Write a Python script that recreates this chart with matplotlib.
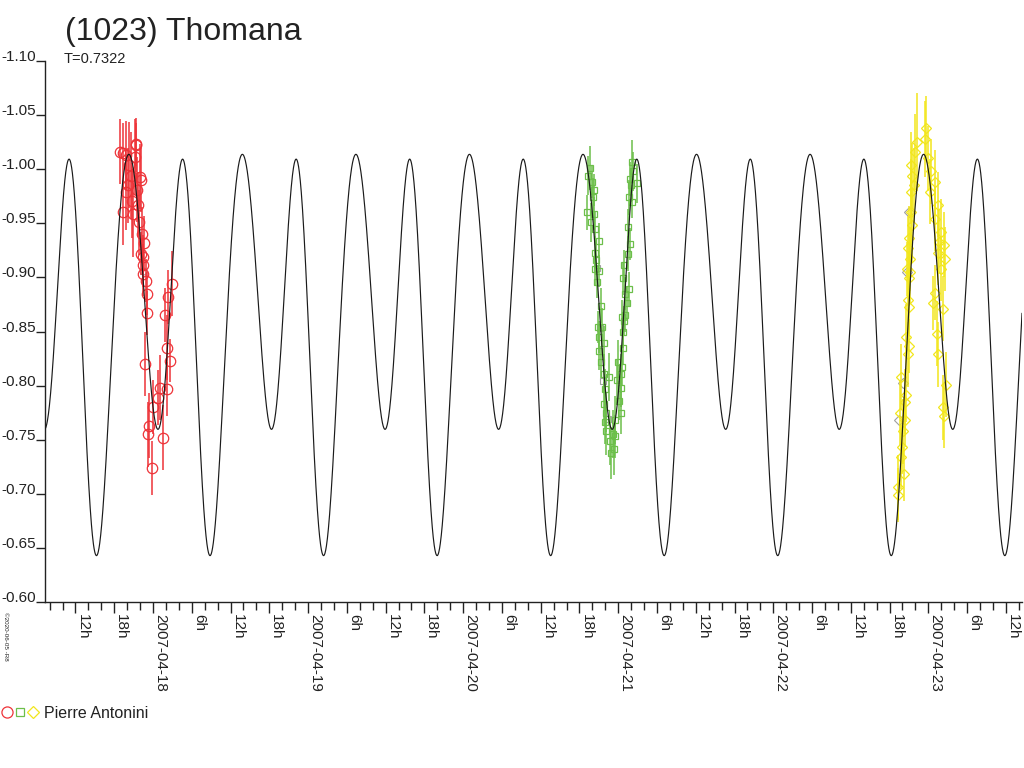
import numpy as np
import matplotlib
matplotlib.use("Agg")
import matplotlib.pyplot as plt
from matplotlib.ticker import FixedLocator, FuncFormatter
from matplotlib.legend_handler import HandlerTuple
from matplotlib.lines import Line2D

plt.rcParams['font.family'] = ['Liberation Sans', 'DejaVu Sans']

title = "(1023) Thomana"
period_label = "T=0.7322"
observer = "Pierre Antonini"

# time in days from 2007-04-18 00:00 UT, relative magnitude
red_t = [-0.211, -0.192, -0.174, -0.110, -0.116, -0.112, -0.155, -0.142, -0.161,
         -0.084, -0.079, -0.174, -0.103, -0.135, -0.097, -0.090, -0.192, -0.127,
         -0.073, -0.058, -0.079, -0.063, -0.066, -0.063, -0.045, -0.037, 0.125,
         0.099, -0.037, 0.077, 0.092, 0.110, -0.052, 0.092, 0.045, 0.034,
         0.002, -0.024, -0.030, 0.063, -0.008]
red_mag = [-1.016, -1.015, -1.013, -1.022, -1.011, -1.023, -1.004, -0.994, -0.985,
           -0.993, -0.990, -0.979, -0.981, -0.971, -0.967, -0.951, -0.960, -0.959,
           -0.940, -0.932, -0.922, -0.919, -0.911, -0.903, -0.897, -0.885, -0.894,
           -0.882, -0.867, -0.865, -0.835, -0.823, -0.820, -0.797, -0.798, -0.789,
           -0.780, -0.763, -0.755, -0.752, -0.724]
red_err = [0.030, 0.028, 0.032, 0.025, 0.035, 0.020, 0.040, 0.040, 0.035,
           0.030, 0.030, 0.035, 0.030, 0.035, 0.030, 0.030, 0.030, 0.040,
           0.025, 0.025, 0.020, 0.020, 0.020, 0.020, 0.020, 0.020, 0.030,
           0.025, 0.020, 0.025, 0.030, 0.020, 0.030, 0.025, 0.030, 0.025,
           0.025, 0.030, 0.030, 0.030, 0.025]

green_t = [2.805, 2.816, 2.831, 2.844, 2.838, 2.801, 2.844, 2.827, 2.849, 2.874,
           2.849, 2.859, 2.849, 2.874, 2.865, 2.891, 2.870, 2.896, 2.874, 2.909,
           2.874, 2.891, 2.909, 2.939, 2.913, 2.909, 2.923, 2.917, 2.923, 2.945,
           2.973, 2.956, 2.967, 2.978, 2.982, 3.016, 3.003, 3.020, 2.994, 3.016,
           3.025, 2.999, 3.031, 3.031, 3.038, 3.025, 3.042, 3.059, 3.042, 3.068,
           3.031, 3.038, 3.063, 3.074, 3.063, 3.089, 3.068, 3.123, 3.085, 3.074,
           3.096, 3.089]
green_mag = [-0.994, -1.001, -0.988, -0.981, -0.974, -0.960, -0.959, -0.951, -0.945, -0.934,
             -0.923, -0.916, -0.908, -0.906, -0.896, -0.874, -0.854, -0.854, -0.845, -0.839,
             -0.832, -0.822, -0.811, -0.808, -0.797, -0.783, -0.775, -0.766, -0.758, -0.749,
             -0.741, -0.738, -0.755, -0.753, -0.768, -0.775, -0.786, -0.798, -0.805, -0.811,
             -0.817, -0.822, -0.835, -0.850, -0.860, -0.863, -0.865, -0.876, -0.885, -0.889,
             -0.899, -0.911, -0.922, -0.931, -0.947, -0.970, -0.974, -0.987, -0.985, -0.991,
             -0.998, -1.007]
green_err = [0.018, 0.020, 0.015, 0.015, 0.018, 0.016, 0.015, 0.018, 0.015, 0.016,
             0.015, 0.014, 0.016, 0.015, 0.015, 0.016, 0.015, 0.018, 0.015, 0.016,
             0.018, 0.015, 0.018, 0.022, 0.018, 0.020, 0.018, 0.020, 0.022, 0.022,
             0.024, 0.024, 0.022, 0.020, 0.022, 0.020, 0.018, 0.018, 0.020, 0.018,
             0.016, 0.020, 0.016, 0.015, 0.014, 0.016, 0.015, 0.016, 0.015, 0.016,
             0.015, 0.014, 0.016, 0.015, 0.016, 0.015, 0.016, 0.018, 0.015, 0.016,
             0.018, 0.020]

yellow_t = [4.929, 4.916, 4.887, 4.895, 4.908, 4.891, 4.887, 4.895, 4.874, 4.869,
            4.880, 4.865, 4.880, 4.874, 4.869, 4.874, 4.858, 4.874, 4.869, 4.826,
            4.858, 4.848, 4.816, 4.848, 4.837, 4.830, 4.826, 4.843, 4.805, 4.805,
            4.987, 4.977, 4.998, 5.019, 5.041, 5.009, 5.063, 5.041, 5.084, 5.067,
            5.101, 5.063, 5.106, 5.084, 5.041, 5.030, 5.095, 5.058, 5.063, 5.116,
            5.095, 5.101]
yellow_mag = [-1.025, -1.016, -1.004, -0.994, -0.985, -0.979, -0.960, -0.948, -0.936, -0.927,
              -0.917, -0.908, -0.905, -0.899, -0.879, -0.873, -0.845, -0.837, -0.829, -0.808,
              -0.791, -0.785, -0.775, -0.768, -0.758, -0.743, -0.734, -0.718, -0.706, -0.699,
              -1.038, -1.028, -1.010, -0.998, -0.988, -0.979, -0.967, -0.954, -0.942, -0.933,
              -0.930, -0.923, -0.917, -0.908, -0.886, -0.876, -0.871, -0.848, -0.829, -0.801,
              -0.780, -0.772]
yellow_err = [0.045, 0.035, 0.030, 0.030, 0.035, 0.030, 0.030, 0.035, 0.030, 0.030,
              0.030, 0.025, 0.030, 0.025, 0.030, 0.025, 0.030, 0.025, 0.030, 0.030,
              0.025, 0.030, 0.030, 0.025, 0.030, 0.025, 0.030, 0.025, 0.030, 0.025,
              0.030, 0.035, 0.030, 0.030, 0.030, 0.030, 0.030, 0.030, 0.030, 0.030,
              0.030, 0.030, 0.030, 0.030, 0.025, 0.025, 0.030, 0.030, 0.030, 0.030,
              0.030, 0.030]

grey_t = [-0.064, 2.863, 2.883, 2.902, 2.934, 4.876, 4.863, 4.837, 4.811]
grey_mag = [-0.906, -0.909, -0.853, -0.804, -0.769, -0.960, -0.905, -0.802, -0.768]
grey_marker = ['o', 's', 's', 's', 's', 'D', 'D', 'D', 'D']

# Fourier model of the lightcurve (P in days, epoch in days from 2007-04-18)
P = 0.7322
epoch = 0.570
c0 = -0.8581
a1, b1 = -0.0245, -0.0548
a2, b2 = -0.1507, 0.0154
a3 = 0.0202

t_start, t_end = -0.6965, 5.604

fig = plt.figure(figsize=(10.24, 7.68), dpi=100)
ax = fig.add_axes([45 / 1024, 1 - 602 / 768, 977 / 1024, 541 / 768])

tt = np.linspace(t_start, t_end, 4000)
ph = 2 * np.pi * (tt - epoch) / P
model = (c0 + a1 * np.cos(ph) + b1 * np.sin(ph) + a2 * np.cos(2 * ph)
         + b2 * np.sin(2 * ph) + a3 * np.cos(3 * ph))

red_c = '#ee3338'
green_c = '#6cbf4a'
yellow_c = '#f2e61c'
grey_c = '#a0a0a0'

ax.errorbar(red_t, red_mag, yerr=red_err, fmt='o', ms=7.5, mfc='none', mec=red_c,
            mew=0.9, ecolor=red_c, elinewidth=1.1, capsize=0, zorder=2)
ax.errorbar(green_t, green_mag, yerr=green_err, fmt='s', ms=5, mfc='none', mec=green_c,
            mew=0.9, ecolor=green_c, elinewidth=1.1, capsize=0, zorder=2)
ax.errorbar(yellow_t, yellow_mag, yerr=yellow_err, fmt='D', ms=5.5, mfc='none', mec=yellow_c,
            mew=0.9, ecolor=yellow_c, elinewidth=1.1, capsize=0, zorder=2)
for x, y, mk in zip(grey_t, grey_mag, grey_marker):
    ax.plot(x, y, mk, ms=5, mfc='none', mec=grey_c, mew=0.8, zorder=1.5)

ax.plot(tt, model, color='#1a1a1a', lw=0.85, zorder=3)

ax.set_xlim(t_start, t_end)
ax.set_ylim(-0.60, -1.10)

for s in ['top', 'right']:
    ax.spines[s].set_visible(False)
for s in ['left', 'bottom']:
    ax.spines[s].set_linewidth(1.0)
    ax.spines[s].set_color('#222222')

yt = [-1.10, -1.05, -1.00, -0.95, -0.90, -0.85, -0.80, -0.75, -0.70, -0.65, -0.60]
ax.set_yticks(yt, [f"{v:.2f}" for v in yt])
plt.setp(ax.get_yticklabels(), va='baseline')
ax.tick_params(axis='y', length=6.5, width=1.0, pad=0, labelsize=11,
               colors='#222222', direction='out')

major = np.arange(-0.5, 5.51, 0.25)
minor = np.arange(-2 / 3, 5.6, 1 / 12)
ax.xaxis.set_major_locator(FixedLocator(major))
ax.xaxis.set_minor_locator(FixedLocator(minor))


def xlab(t, pos):
    h = int(round((t % 1) * 24)) % 24
    if h == 0:
        day = 18 + int(round(t))
        return f"2007-04-{day:02d}"
    return f"{h}h"


ax.xaxis.set_major_formatter(FuncFormatter(xlab))
ax.tick_params(axis='x', which='major', length=8, width=1.0, pad=1, labelsize=11,
               colors='#222222', labelrotation=270)
ax.tick_params(axis='x', which='minor', length=5.5, width=1.0, colors='#222222')
plt.setp(ax.get_xticklabels(), ha='left', va='top')

fig.text(65 / 1024, 1 - 40 / 768, title, fontsize=23, color='#222222', va='baseline')
fig.text(64 / 1024, 1 - 63 / 768, period_label, fontsize=10.5, color='#222222', va='baseline')
fig.text(3 / 1024, 1 - 612 / 768, "\u00a92020-06-05 -R8", fontsize=4.5, rotation=270,
         color='#222222', ha='left', va='top')

h_red = Line2D([], [], ls='none', marker='o', ms=8, mfc='none', mec=red_c, mew=0.9)
h_green = Line2D([], [], ls='none', marker='s', ms=5.5, mfc='none', mec=green_c, mew=0.9)
h_yellow = Line2D([], [], ls='none', marker='D', ms=6, mfc='none', mec=yellow_c, mew=0.9)
ax.legend([(h_red, h_green, h_yellow)], [observer],
          handler_map={tuple: HandlerTuple(ndivide=None, pad=0.2)},
          loc='center left', bbox_to_anchor=(0, 1 - 713 / 768),
          bbox_transform=fig.transFigure, frameon=False, fontsize=11.5,
          handlelength=2.3, handletextpad=0.35, borderpad=0.1, borderaxespad=0,
          labelcolor='#222222')

fig.savefig("out.png", dpi=100)
